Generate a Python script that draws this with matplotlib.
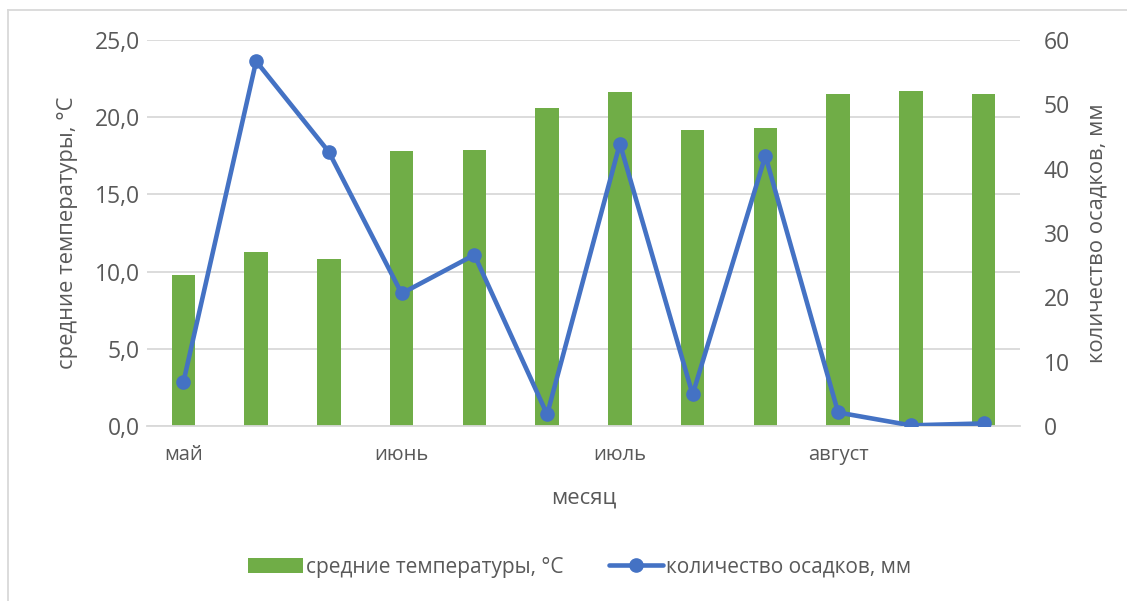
import matplotlib
matplotlib.use("Agg")
import matplotlib.pyplot as plt
from matplotlib.lines import Line2D
import numpy as np

plt.rcParams['font.family'] = ['Open Sans', 'DejaVu Sans']

categories = ["май", "", "", "июнь", "", "", "июль", "", "", "август", "", ""]
temperature = [9.8, 11.3, 10.8, 17.8, 17.9, 20.6, 21.6, 19.2, 19.3, 21.5, 21.7, 21.5]
precipitation = [6.8, 56.7, 42.6, 20.6, 26.6, 1.8, 43.9, 4.9, 42.0, 2.1, 0.1, 0.4]
temp_label = "средние температуры, °С"
prec_label = "количество осадков, мм"
x_label = "месяц"

GREEN = "#70AD47"
BLUE = "#4472C4"
GRAY = "#595959"
GRID = "#D9D9D9"

fig = plt.figure(figsize=(11.27, 6.01), dpi=100)
ax = fig.add_axes([147/1127, 1-426/601, (1020-147)/1127, (426-40)/601])
ax2 = ax.twinx()

x = np.arange(len(categories))
bars = ax.bar(x, temperature, width=0.32, color=GREEN, zorder=2, label=temp_label)
line, = ax2.plot(x, precipitation, color=BLUE, lw=3.3, marker='o', markersize=9.5,
                 zorder=3, label=prec_label, solid_capstyle='round')

ax.set_xlim(-0.5, len(categories) - 0.5)
ax.set_ylim(0, 25)
ax.set_yticks(np.arange(0, 25.1, 5))
ax.set_yticklabels([f"{v:.1f}".replace('.', ',') for v in np.arange(0, 25.1, 5)])
ax2.set_ylim(0, 60)
ax2.set_yticks(np.arange(0, 61, 10))

ax.set_xticks(x)
ax.set_xticklabels(categories)

for a in (ax, ax2):
    for s in a.spines.values():
        s.set_visible(False)
    a.tick_params(length=0, colors=GRAY)
ax.tick_params(axis='x', labelsize=14.5, pad=14)
ax.tick_params(axis='y', labelsize=16.5, pad=5)
ax2.tick_params(axis='y', labelsize=16.5, pad=17)
ax.spines['bottom'].set_visible(True)
ax.spines['bottom'].set_color(GRID)
ax.spines['bottom'].set_linewidth(1.3)

ax.yaxis.grid(True, color=GRID, lw=1.3, zorder=0)
ax.set_axisbelow(True)
ax2.set_zorder(ax.get_zorder() + 1)
ax2.patch.set_visible(False)

ax.set_ylabel(temp_label, fontsize=15.8, color=GRAY, labelpad=12)
ax2.set_ylabel(prec_label, fontsize=15.8, color=GRAY, labelpad=12)
ax.set_xlabel(x_label, fontsize=15.8, color=GRAY, labelpad=16)

fig.legend(handles=[bars, line], labels=[temp_label, prec_label], loc='center',
           bbox_to_anchor=(580/1127, 1-567/601), ncol=2, frameon=False,
           fontsize=15, labelcolor=GRAY, handlelength=2.6, handletextpad=0.15,
           columnspacing=2.2)

fig.add_artist(Line2D([8/1127, 8/1127], [0, 1-10/601], transform=fig.transFigure,
                      color=GRID, lw=1.3))
fig.add_artist(Line2D([8/1127, 1], [1-10/601, 1-10/601], transform=fig.transFigure,
                      color=GRID, lw=1.3))

fig.savefig("out.png", dpi=100)
